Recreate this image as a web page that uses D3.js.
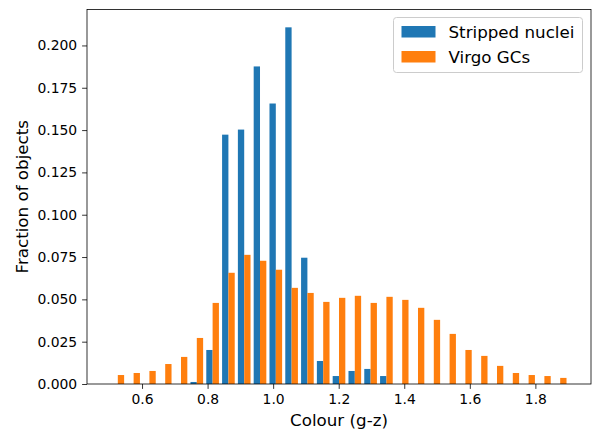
<!DOCTYPE html>
<html>
<head>
<meta charset="utf-8">
<script src="https://cdn.jsdelivr.net/npm/d3@7"></script>
<style>
  html, body { margin: 0; padding: 0; background: #fff; }
  svg { display: block; font-family: "DejaVu Sans", sans-serif; }
</style>
</head>
<body>
<svg id="chart" width="592" height="430"></svg>
<script>
// Histogram bin layout (colour g-z): 29 equal bins
const binStart = 0.502;
const binWidth = 0.0482;
const binCount = 29;

// Fraction of objects per bin
const strippedNuclei = [
  0, 0, 0, 0, 0, 0.0012, 0.0201, 0.1473, 0.1503, 0.1876,
  0.1657, 0.2107, 0.0746, 0.0136, 0.0047, 0.0077, 0.0089, 0.0047, 0, 0,
  0, 0, 0, 0, 0, 0, 0, 0, 0
];
const virgoGCs = [
  0.0053, 0.0065, 0.0077, 0.0118, 0.0160, 0.0272, 0.0479, 0.0657, 0.0763, 0.0728,
  0.0675, 0.0568, 0.0538, 0.0485, 0.0509, 0.0521, 0.0479, 0.0515, 0.0497, 0.0450,
  0.0379, 0.0296, 0.0201, 0.0166, 0.0107, 0.0065, 0.0053, 0.0047, 0.0036
];

const seriesNames = ["Stripped nuclei", "Virgo GCs"];
const seriesColors = ["#1f77b4", "#ff7f0e"];
const xTicks = [0.6, 0.8, 1.0, 1.2, 1.4, 1.6, 1.8];
const yTicks = [0, 0.025, 0.05, 0.075, 0.1, 0.125, 0.15, 0.175, 0.2];

const svg = d3.select("#chart");
const plot = { left: 87, right: 591, top: 9.5, bottom: 384 };

const binEnd = binStart + binWidth * binCount;
const pad = 0.05 * (binEnd - binStart);
const x = d3.scaleLinear()
  .domain([binStart - pad, binEnd + pad])
  .range([plot.left, plot.right]);

const yMax = d3.max(strippedNuclei.concat(virgoGCs)) * 1.05;
const y = d3.scaleLinear()
  .domain([0, yMax])
  .range([plot.bottom, plot.top]);

// Side-by-side bars inside each bin (80% of the bin, split between two series)
const series = [strippedNuclei, virgoGCs];
series.forEach((vals, si) => {
  svg.append("g")
    .selectAll("rect")
    .data(vals)
    .join("rect")
    .attr("x", (d, i) => x(binStart + binWidth * (i + 0.1 + 0.4 * si)))
    .attr("width", (d, i) => x(binStart + binWidth * 0.4) - x(binStart))
    .attr("y", d => y(d))
    .attr("height", d => y(0) - y(d))
    .attr("fill", seriesColors[si]);
});

// Axes
const xAxis = d3.axisBottom(x)
  .tickValues(xTicks)
  .tickFormat(d3.format(".1f"))
  .tickSize(4.9)
  .tickPadding(4.9);
const yAxis = d3.axisLeft(y)
  .tickValues(yTicks)
  .tickFormat(d3.format(".3f"))
  .tickSize(4.9)
  .tickPadding(4.9);

const gx = svg.append("g")
  .attr("transform", `translate(0,${plot.bottom})`)
  .call(xAxis);
const gy = svg.append("g")
  .attr("transform", `translate(${plot.left},0)`)
  .call(yAxis);

[gx, gy].forEach(g => {
  g.select(".domain").remove();
  g.selectAll(".tick line").attr("stroke", "#000").attr("stroke-width", 0.8);
  g.selectAll(".tick text")
    .attr("fill", "#000")
    .style("font-family", "'DejaVu Sans', sans-serif")
    .style("font-size", "13.9px");
});

// Frame
svg.append("rect")
  .attr("x", plot.left)
  .attr("y", plot.top)
  .attr("width", plot.right - plot.left)
  .attr("height", plot.bottom - plot.top)
  .attr("fill", "none")
  .attr("stroke", "#000")
  .attr("stroke-width", 0.8);

// Axis titles
svg.append("text")
  .attr("x", (plot.left + plot.right) / 2)
  .attr("y", 426)
  .attr("text-anchor", "middle")
  .style("font-size", "16.7px")
  .text("Colour (g-z)");

svg.append("text")
  .attr("transform", `translate(28,${(plot.top + plot.bottom) / 2}) rotate(-90)`)
  .attr("text-anchor", "middle")
  .style("font-size", "16.7px")
  .text("Fraction of objects");

// Legend
const legend = svg.append("g").attr("transform", "translate(393.5,17.5)");
legend.append("rect")
  .attr("width", 189)
  .attr("height", 55)
  .attr("rx", 3)
  .attr("fill", "#fff")
  .attr("fill-opacity", 0.8)
  .attr("stroke", "#cccccc")
  .attr("stroke-width", 1);

seriesNames.forEach((name, i) => {
  const row = legend.append("g").attr("transform", `translate(0,${i * 25})`);
  row.append("rect")
    .attr("x", 8)
    .attr("y", 8.5)
    .attr("width", 34)
    .attr("height", 11.5)
    .attr("fill", seriesColors[i]);
  row.append("text")
    .attr("x", 55)
    .attr("y", 20)
    .style("font-size", "16.7px")
    .text(name);
});
</script>
</body>
</html>
